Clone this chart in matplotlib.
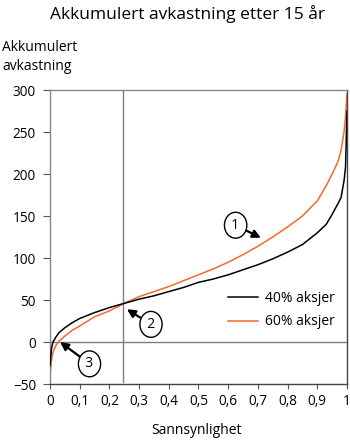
import matplotlib
matplotlib.use("Agg")
import matplotlib.pyplot as plt

plt.rcParams['font.family'] = ['Open Sans', 'DejaVu Sans']

# Quantiles of accumulated return after 15 years (per cent)
prob = [0.0, 0.005, 0.01, 0.02, 0.03, 0.05, 0.075, 0.1, 0.15, 0.2, 0.25,
        0.3, 0.35, 0.4, 0.45, 0.5, 0.55, 0.6, 0.65, 0.7, 0.75, 0.8, 0.85,
        0.9, 0.93, 0.95, 0.97, 0.98, 0.99, 0.995, 1.0]
equity40 = [-28, -8, 0, 6, 11, 17, 23, 28, 35, 41, 46,
            51, 55, 60, 65, 71, 75, 80, 86, 92, 99, 107, 116,
            130, 140, 152, 165, 172, 192, 208, 275]
equity60 = [-40, -22, -12, -4, 1, 7, 14, 19, 30, 37, 46,
            54, 60, 66, 73, 80, 87, 95, 104, 114, 125, 137, 150,
            168, 186, 200, 215, 228, 250, 268, 295]

series_labels = ["40% aksjer", "60% aksjer"]
xticks = [i / 10 for i in range(11)]
xtick_labels = ["0", "0,1", "0,2", "0,3", "0,4", "0,5", "0,6", "0,7", "0,8", "0,9", "1"]
yticks = [-50, 0, 50, 100, 150, 200, 250, 300]

# Numbered callouts: (label, text position, arrow tip)
callouts = [("1", (0.625, 139), (0.71, 124)),
            ("2", (0.34, 21), (0.259, 39)),
            ("3", (0.133, -26), (0.034, 0))]
marker_p = 0.247

fig = plt.figure(figsize=(3.5, 4.42), dpi=100)
ax = fig.add_axes([50 / 350, 58 / 442, 297 / 350, 294 / 442])

ax.axhline(0, color='#7f7f7f', lw=1.0, zorder=1)
ax.plot([marker_p, marker_p], [-48, 300], color='#7f7f7f', lw=1.0, zorder=1)

ax.plot(prob, equity40, color='black', lw=1.1, label=series_labels[0], zorder=3)
ax.plot(prob, equity60, color='#f26b2a', lw=1.1, label=series_labels[1], zorder=2)

ax.set_xlim(0, 1)
ax.set_ylim(-50, 300)
ax.set_xticks(xticks)
ax.set_xticklabels(xtick_labels)
ax.set_yticks(yticks)
ax.tick_params(axis='both', labelsize=9.8, direction='out', color='#555555')
ax.tick_params(axis='x', length=3.5, pad=4)
ax.tick_params(axis='y', length=5, pad=5)

for side in ('left', 'top'):
    ax.spines[side].set_color('#888888')
for side in ('bottom', 'right'):
    ax.spines[side].set_color('#444444')
for s in ax.spines.values():
    s.set_linewidth(1.0)

for label, xytext, xy in callouts:
    ax.annotate(f"\u2009{label}\u2009", xy=xy, xytext=xytext, fontsize=10,
                ha='center', va='center',
                bbox=dict(boxstyle='ellipse,pad=0.12', fc='white', ec='black', lw=1.0),
                arrowprops=dict(arrowstyle='-|>', color='black', lw=1.6,
                                mutation_scale=12, shrinkA=0, shrinkB=0),
                zorder=5)

leg = ax.legend(loc='upper left', bbox_to_anchor=(0.58, 0.335), frameon=False,
                fontsize=10, handlelength=2.2, handletextpad=0.5, labelspacing=0.6,
                borderaxespad=0)

fig.text(187 / 350, 1 - 14 / 442, "Akkumulert avkastning etter 15 år",
         ha='center', va='center', fontsize=12.5)
fig.text(2 / 350, 1 - 57 / 442, "Akkumulert\navkastning", ha='left', va='center',
         fontsize=10, linespacing=1.45)
fig.text(196 / 350, 1 - 430 / 442, "Sannsynlighet", ha='center', va='center', fontsize=10)

fig.savefig("out.png", dpi=100)
